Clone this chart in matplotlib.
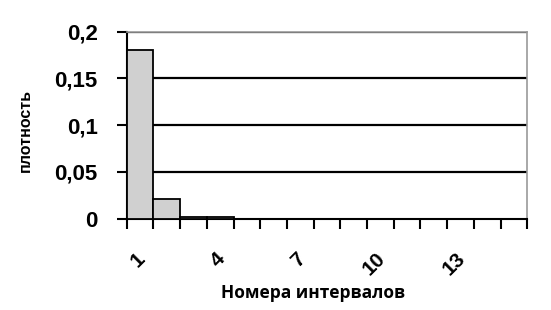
import numpy as np
import matplotlib.pyplot as plt
import matplotlib.transforms as mtransforms
from matplotlib.ticker import FuncFormatter, FixedLocator

# histogram density per interval
intervals = list(range(1, 16))
density = [0.18, 0.021, 0.002, 0.002, 0, 0, 0, 0, 0, 0, 0, 0, 0, 0, 0]
shown_labels = [1, 4, 7, 10, 13]
y_ticks = [0, 0.05, 0.1, 0.15, 0.2]

plt.rcParams['font.family'] = ['Liberation Sans', 'DejaVu Sans']

fig = plt.figure(figsize=(5.51, 3.10), dpi=100)
ax = fig.add_axes([0.230, 0.295, 0.727, 0.603])

ax.bar(intervals, density, width=1.0, color="#d0d0d0", edgecolor="black",
       linewidth=1.3, zorder=3)

ax.set_xlim(0.5, 15.5)
ax.set_ylim(0, 0.2)

# horizontal grid
ax.set_yticks(y_ticks)
ax.yaxis.set_major_formatter(FuncFormatter(lambda v, p: f"{v:g}".replace(".", ",")))
for v in y_ticks[1:]:
    ax.axhline(v, color="black", linewidth=1.6, zorder=1)

# ticks at interval boundaries, labels under selected intervals
ax.xaxis.set_major_locator(FixedLocator(shown_labels))
ax.set_xticklabels([str(s) for s in shown_labels])
ax.xaxis.set_minor_locator(FixedLocator(np.arange(0.5, 16, 1)))
ax.tick_params(axis="x", which="major", length=0, pad=22)
ax.tick_params(axis="x", which="minor", length=7, width=1.5, direction="out")
shift = mtransforms.ScaledTranslation(6 / 72, 0, fig.dpi_scale_trans)
for lab in ax.get_xticklabels():
    lab.set_rotation(45)
    lab.set_ha("right")
    lab.set_va("top")
    lab.set_fontsize(15)
    lab.set_fontweight("bold")
    lab.set_transform(lab.get_transform() + shift)

ax.tick_params(axis="y", length=7, width=1.5, direction="out", pad=14,
               labelsize=16)
for lab in ax.get_yticklabels():
    lab.set_fontweight("bold")

for side in ["top", "right"]:
    ax.spines[side].set_color("#999999")
    ax.spines[side].set_linewidth(1.2)
ax.spines["left"].set_linewidth(1.5)
ax.spines["bottom"].set_linewidth(1.5)

ax.set_xlabel("Номера интервалов", fontsize=12.5, fontweight="bold",
              family=["Open Sans", "DejaVu Sans"])
ax.xaxis.set_label_coords(0.464, -0.35)
ax.set_ylabel("плотность", fontsize=11.5, fontweight="bold")
ax.yaxis.set_label_coords(-0.235, 0.47)

fig.savefig("out.png", dpi=100)
